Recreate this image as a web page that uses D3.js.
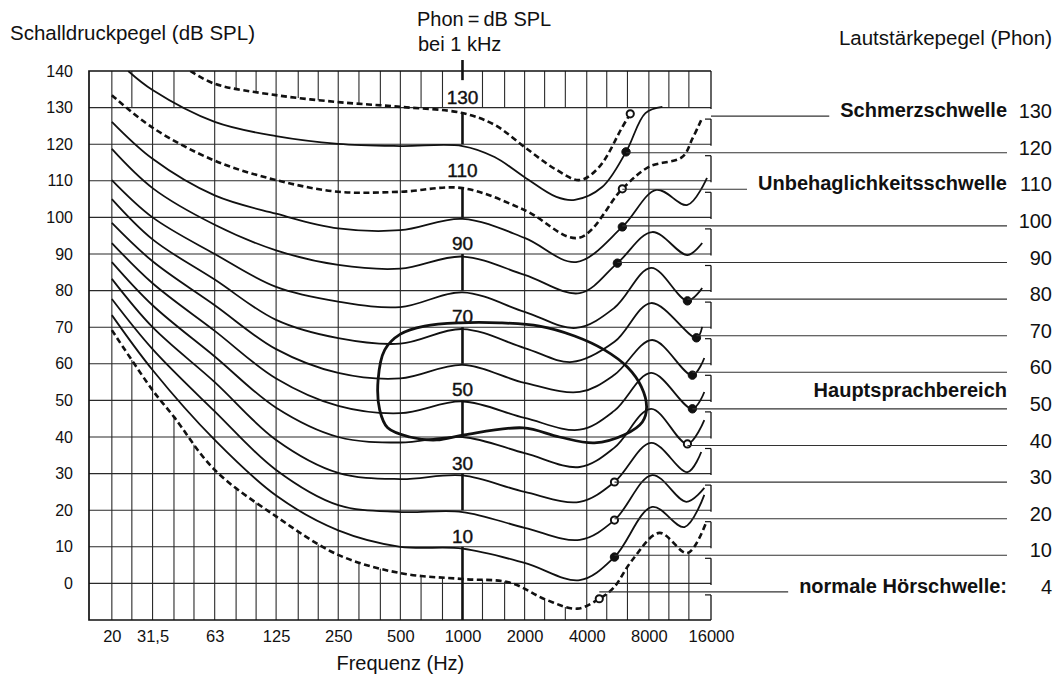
<!DOCTYPE html>
<html>
<head>
<meta charset="utf-8">
<script src="https://cdn.jsdelivr.net/npm/d3@7"></script>
<style>
body{margin:0;background:#fff;}
text{font-family:"Liberation Sans",Arial,sans-serif;fill:#111;}
</style>
</head>
<body>
<div id="main"></div>
<script>
// ticks
var dbTicks=[0,10,20,30,40,50,60,70,80,90,100,110,120,130,140];
var freqTicks=[20,31.5,63,125,250,500,1000,2000,4000,8000,16000];
var freqTickLabels=['20','31,5','63','125','250','500','1000','2000','4000','8000','16000'];
var majorFreqs=[20,31.5,63,125,250,500,2000,4000,8000];
var minorFreqs=[25,40,50,80,100,160,200,315,400,630,800,1250,1600,2500,3150,5000,6300,10000,12500];

// curves: [frequency Hz, dB SPL]
var hearingThreshold=[[20,69.2],[31.5,52.8],[40,45.5],[63,31],[125,18.3],[250,7.8],[500,2.8],[1000,1.2],[1700,0.2],[2550,-4.5],[3600,-6.9],[4600,-4.2],[5400,-1.2],[6650,6.4],[9000,13.8],[12300,8.3],[15200,16.8]];
var phon10=[[20,73.3],[31.5,58.3],[63,39.2],[125,24],[250,14.5],[500,10],[1000,9.5],[2000,5.6],[3700,0.9],[5450,7.2],[8300,20.9],[11900,15.4],[14850,24.2]];
var phon20=[[20,77.7],[31.5,64],[63,47],[125,31],[250,21.4],[500,19.5],[1000,19.5],[2000,15.2],[3700,11.9],[5450,17.3],[8300,29.6],[12150,22.3],[14850,26.1]];
var phon30=[[20,83.2],[31.5,70],[63,55],[125,39.2],[250,30.2],[500,28.5],[1000,29.5],[2000,25],[3700,22.3],[5450,27.7],[8200,38.4],[12300,30.4],[14350,35.9]];
var phon40=[[20,87.8],[31.5,76],[63,62],[125,48],[250,40],[500,38.5],[1000,40],[2000,35.6],[3700,31.8],[5450,37.1],[8200,47.7],[12300,38.1],[14850,44.6]];
var phon50=[[20,93],[31.5,82],[63,69],[125,56],[250,48.5],[500,46.5],[1000,49.7],[2000,45.2],[3700,42],[5450,47.2],[8200,57.5],[13000,47.7],[14850,52.3]];
var phon60=[[20,98.5],[31.5,88],[63,76],[125,64],[250,57.5],[500,56],[1000,59.7],[2000,54.8],[3700,52.3],[5450,57],[8300,66.5],[13000,56.9],[14850,61.6]];
var phon70=[[20,105],[31.5,94],[63,83],[125,72],[250,67],[500,65.5],[1000,69.5],[2000,64.3],[3400,60.5],[5450,66],[8200,76.6],[13600,67.1],[14500,70.1]];
var phon80=[[20,110.2],[31.5,100],[63,90],[125,81],[250,77],[500,75.5],[1000,79.5],[2000,74.2],[3550,69.8],[5450,75.3],[8200,86.2],[12300,77.2],[14500,80.7]];
var phon90=[[20,118.7],[31.5,108],[63,98],[125,91],[250,87],[500,86],[1000,89.3],[2000,84.3],[3700,79.3],[5630,87.5],[8300,96],[12300,89.7],[14500,93]];
var phon100=[[20,126.1],[31.5,116],[63,106],[125,101],[250,97],[500,96.5],[1000,99.6],[2000,94.4],[3550,87.8],[5950,97.4],[8700,107.5],[12300,103.4],[15300,110.8]];
var discomfort110=[[20,133.4],[31.5,124.5],[63,115.5],[125,110.2],[250,107],[500,107],[1000,108],[2000,102],[3650,94.4],[5950,107.8],[8000,113.8],[11600,116.5],[13000,121.5],[14500,127.2]];
var phon120=[[24,140],[31.5,134.8],[63,126.1],[125,122.2],[250,120.1],[500,119.5],[1000,119.5],[1430,116.5],[2000,111],[2850,105.6],[3500,104.8],[4750,108.3],[6200,117.9],[7700,128.5],[9300,130.2]];
var pain130=[[48,140],[63,136.5],[125,133.4],[250,131.5],[500,130.2],[1000,128.5],[1430,125.3],[2000,119.2],[2850,113],[3700,110.2],[4600,113.8],[5950,124.7],[6500,128.3]];

// Hauptsprachbereich outline
var speechArea=[[390,55.6],[420,63.8],[500,68.1],[655,70.3],[970,71.2],[1510,71.2],[2360,70.3],[3490,67.6],[4870,63.8],[6290,59.1],[7360,53.7],[7800,48.2],[7440,44.1],[6090,40.6],[4360,38.4],[2950,40],[1970,42.5],[1020,40.6],[750,39.2],[555,40],[434,42.5],[397,47.4]];

// right hand scale
var phonLevels=[130,120,110,100,90,80,70,60,50,40,30,20,10,0];
var phonLabels=['130','120','110','100','90','80','70','60','50','40','30','20','10','4'];
var thresholdNames=[[130,'Schmerzschwelle'],[110,'Unbehaglichkeitsschwelle'],[0,'normale Hörschwelle:']];
var kHzLabels=[130,110,90,70,50,30,10];
var kHzBars=[[143,137.5],[128.5,120],[108,100],[90,80],[70,60],[50,40],[30,20],[10,-10]];

var curves=[
  {pts:hearingThreshold,level:0,dash:true,dot:4600,open:true},
  {pts:phon10,level:10,dot:5450},
  {pts:phon20,level:20,dot:5450,open:true},
  {pts:phon30,level:30,dot:5450,open:true},
  {pts:phon40,level:40,dot:12300,open:true},
  {pts:phon50,level:50,dot:13000},
  {pts:phon60,level:60,dot:13000},
  {pts:phon70,level:70,dot:13600},
  {pts:phon80,level:80,dot:12300},
  {pts:phon90,level:90,dot:5630},
  {pts:phon100,level:100,dot:5950},
  {pts:discomfort110,level:110,dash:true,dot:5950,open:true},
  {pts:phon120,level:120,dot:6200},
  {pts:pain130,level:130,dash:true,dot:6500,open:true,lineFromFrame:true}
];

var width=1058,height=677;
var svg=d3.select('#main').append('svg').attr('width',width).attr('height',height);

var x=d3.scaleLog().base(2).domain([15.5,16000]).range([89,711]);
var y=d3.scaleLinear().domain([-10,140]).range([620,71]);
function yR(l){return y(l)+8.5;}
var pL=x.range()[0],pR=x.range()[1],pT=y(140),pB=y(-10);

svg.append('defs').append('clipPath').attr('id','plot')
  .append('rect').attr('x',pL).attr('y',pT).attr('width',pR-pL).attr('height',pB-pT);

var gGrid=svg.append('g').attr('stroke','#2a2a2a').attr('stroke-width',1.1);
var gCurves=svg.append('g').attr('clip-path','url(#plot)').attr('fill','none').attr('stroke','#111');
var gMarks=svg.append('g');

var line=d3.line().x(function(d){return x(d[0])}).y(function(d){return y(d[1])}).curve(d3.curveCatmullRom.alpha(0.5));

// curves
var paths={};
curves.forEach(function(c){
  var p=gCurves.append('path').datum(c.pts).attr('d',line)
    .attr('stroke-width',c.dash?2.6:1.8)
    .attr('stroke-dasharray',c.dash?'6,3.5':null);
  paths[c.level]=p;
});

gCurves.append('path').datum(speechArea)
  .attr('d',d3.line().x(function(d){return x(d[0])}).y(function(d){return y(d[1])}).curve(d3.curveCatmullRomClosed.alpha(0.5)))
  .attr('stroke-width',2.8);

function sampler(p){
  var node=p.node(),len=node.getTotalLength(),pts=[];
  for(var s=0;s<=len;s+=0.5){var q=node.getPointAtLength(s);pts.push([q.x,q.y]);}
  return function(px){
    var best=null,bd=1e9;
    pts.forEach(function(q){var d=Math.abs(q[0]-px);if(d<bd){bd=d;best=q;}});
    return bd<1.5?best[1]:null;
  };
}
var thrAt=sampler(paths[0]);
var painAt=sampler(paths[130]);

// horizontal grid
dbTicks.forEach(function(d){
  if(d>=140) return;
  gGrid.append('path').attr('d','M'+pL+','+y(d)+'H'+pR).attr('fill','none');
});

// full vertical grid
majorFreqs.forEach(function(f){
  gGrid.append('path').attr('d','M'+x(f)+','+pT+'V'+pB).attr('fill','none');
});

// third-octave stubs: from bottom up to threshold, from top down to 130 dB / pain curve
minorFreqs.forEach(function(f){
  var px=x(f);
  var yt=thrAt(px);
  if(yt!==null) gGrid.append('path').attr('d','M'+px+','+pB+'V'+yt);
  var yp=painAt(px);
  var end=y(130);
  if(yp!==null) end=Math.min(end,yp);
  if(end>pT+2) gGrid.append('path').attr('d','M'+px+','+pT+'V'+end);
});

// frame
var frame=svg.append('g').attr('stroke','#111').attr('stroke-width',1.7).attr('fill','none');
frame.append('path').attr('d','M'+pR+','+pT+'H'+pL+'V'+pB+'H'+pR);

// broken right frame
var segs=[];
phonLevels.forEach(function(l,i){
  var t=i==0?pT:yR(phonLevels[i-1])+3;
  segs.push([t,yR(l)-7,i>0]);
});
segs.push([yR(0)+3,pB,true]);
segs.forEach(function(s){
  frame.append('path').attr('d','M'+pR+','+s[0]+'V'+s[1]).attr('stroke-width',1.3);
  if(s[2]) frame.append('path').attr('d','M'+(pR-6)+','+s[0]+'H'+pR).attr('stroke-width',1.2);
});

// bold 1 kHz line with labels
var xk=x(1000);
kHzBars.forEach(function(d){
  gMarks.append('path').attr('d','M'+xk+','+y(d[0])+'V'+y(d[1]))
    .attr('stroke','#111').attr('stroke-width',2.6);
});
gMarks.selectAll('text.k').data(kHzLabels)
  .enter().append('text').attr('class','k')
    .attr('x',xk).attr('y',function(d){return y(d+3)+7})
    .attr('text-anchor','middle').attr('font-size',19)
    .style('stroke','#111').style('stroke-width',0.4)
    .text(function(d){return d});

// right phon lines, labels
var rl=svg.append('g');
var nameOf={};
thresholdNames.forEach(function(n){nameOf[n[0]]=n[1]});
var labelRight=1007;
curves.forEach(function(c){
  var yy=yR(c.level);
  var x1=c.lineFromFrame?pR:x(c.dot),x2=labelRight;
  if(nameOf[c.level]){
    var t=rl.append('text').attr('x',labelRight).attr('y',yy+1).attr('text-anchor','end')
      .attr('font-size',20).attr('font-weight','bold').text(nameOf[c.level]);
    x2=labelRight-t.node().getComputedTextLength()-11;
  }
  rl.append('path').attr('d','M'+x1+','+yy+'H'+x2)
    .attr('stroke','#333').attr('stroke-width',1.1);
});
rl.append('text').attr('x',labelRight).attr('y',yR(50)-12).attr('text-anchor','end')
  .attr('font-size',20).attr('font-weight','bold').text('Hauptsprachbereich');
rl.selectAll('text.n').data(phonLevels)
  .enter().append('text').attr('class','n')
    .attr('x',1052).attr('y',function(d){return yR(d)+2})
    .attr('text-anchor','end').attr('font-size',20)
    .text(function(d,i){return phonLabels[i]});

// markers
curves.forEach(function(c){
  var pt=c.pts.filter(function(p){return p[0]===c.dot})[0];
  gMarks.append('circle').attr('cx',x(pt[0])).attr('cy',y(pt[1])).attr('r',c.open?3.6:4.2)
    .attr('fill',c.open?'#fff':'#111').attr('stroke','#111').attr('stroke-width',c.open?2:1);
});

// axes
var ya=svg.append('g').attr('transform','translate('+pL+',0)')
  .call(d3.axisLeft(y).tickValues(dbTicks).tickSize(0).tickPadding(16));
ya.select('.domain').remove();
ya.attr('font-family','"Liberation Sans",Arial,sans-serif').attr('font-size',16);
ya.selectAll('text').style('fill','#111');

var xa=svg.append('g').attr('transform','translate(0,'+pB+')')
  .call(d3.axisBottom(x).tickValues(freqTicks).tickFormat(function(d,i){return freqTickLabels[i]}).tickSize(0).tickPadding(10));
xa.select('.domain').remove();
xa.attr('font-family','"Liberation Sans",Arial,sans-serif').attr('font-size',16.5);
xa.selectAll('text').style('fill','#111');

// titles
svg.append('text').attr('x',10).attr('y',40).attr('font-size',20.5).text('Schalldruckpegel (dB SPL)');
svg.append('text').attr('x',1052).attr('y',45).attr('font-size',20.5).attr('text-anchor','end').text('Lautstärkepegel (Phon)');
svg.append('text').attr('x',417).attr('y',26).attr('font-size',20).text('Phon\u2009=\u2009dB SPL');
svg.append('text').attr('x',418).attr('y',51).attr('font-size',20).text('bei 1 kHz');
svg.append('text').attr('x',x(500)).attr('y',670).attr('font-size',20).attr('text-anchor','middle').text('Frequenz (Hz)');
</script>
</body>
</html>
